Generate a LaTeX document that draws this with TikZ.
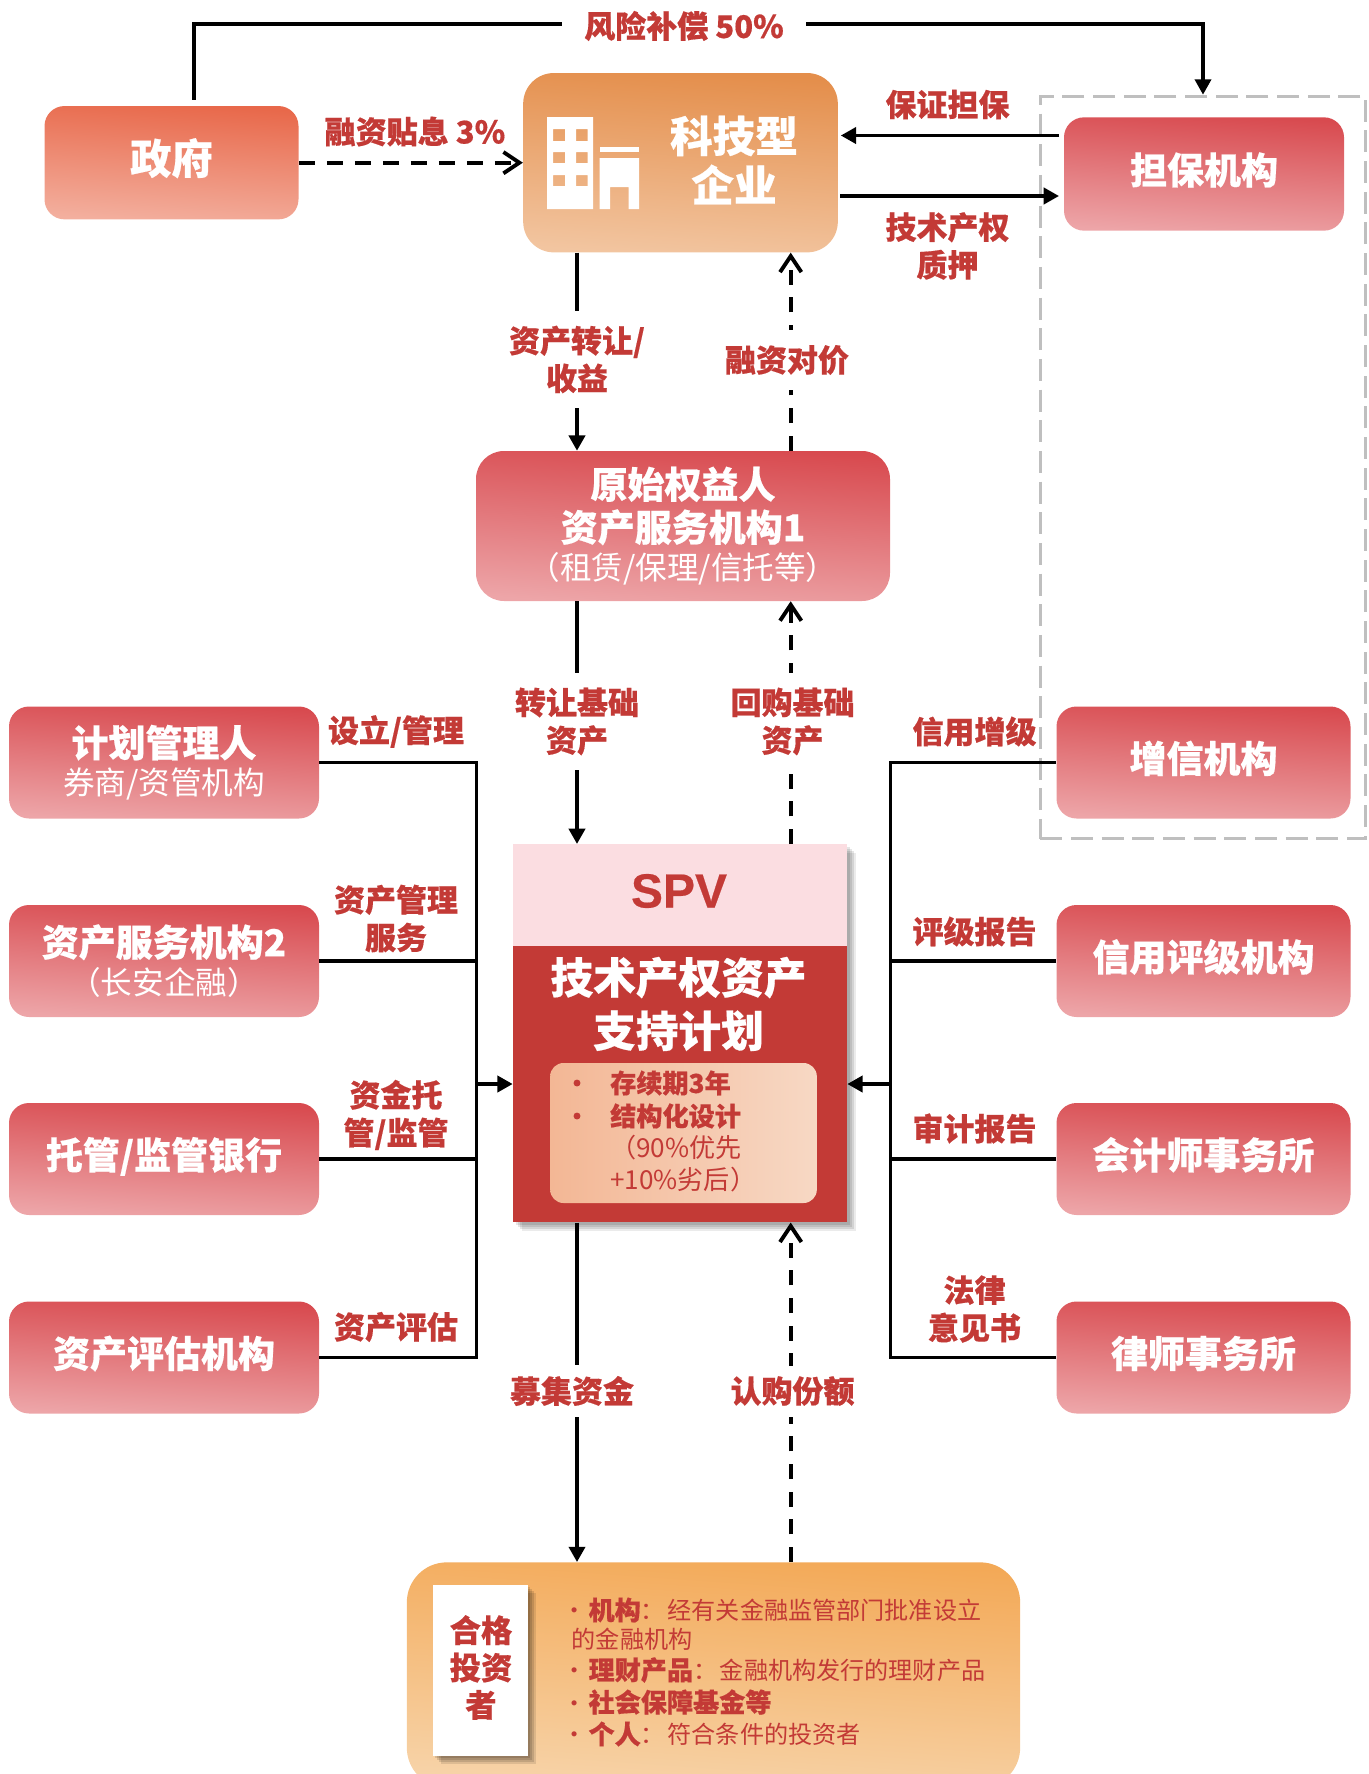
\documentclass[tikz,border=0pt]{standalone}
\usepackage{fontspec}
\usetikzlibrary{arrows.meta,calc}
\newfontfamily\regf{Noto Sans CJK SC}
\newfontfamily\hvf[FakeBold=0.5]{Noto Sans CJK SC Black}
\newfontfamily\spvf[FakeBold=0.4]{Liberation Sans Bold}
\definecolor{labred}{HTML}{C33A36}
\definecolor{D1}{HTML}{D84A4F}
\definecolor{D2}{HTML}{EDA5A8}
\definecolor{G1}{HTML}{E8684A}
\definecolor{G2}{HTML}{F3AF9E}
\definecolor{K1}{HTML}{E48E4B}
\definecolor{K2}{HTML}{F2C5A0}
\definecolor{I1}{HTML}{F3A957}
\definecolor{I2}{HTML}{F7D4AA}
\definecolor{N1}{HTML}{F3B795}
\definecolor{N2}{HTML}{F7D8C4}
\definecolor{P1}{HTML}{FBDDE1}
\definecolor{frame}{HTML}{BFBFBF}
\newcommand\hvA{\hvf\fontsize{27.75}{33}\selectfont}
\newcommand\hvB{\hvf\fontsize{23.25}{28.3}\selectfont}
\newcommand\hvC{\hvf\fontsize{19.6}{24}\selectfont}
\newcommand\rgA{\regf\fontsize{23.7}{31}\selectfont}
\newcommand\rgC{\regf\fontsize{19.6}{24}\selectfont}
\newcommand\rgD{\regf\fontsize{18.1}{24}\selectfont}
\newcommand\upt[1]{\raisebox{-7.5pt}[0pt][0pt]{#1}}
\newcommand\lead{\makebox[12.6pt][l]{\hspace{-7pt}·}}
\tikzset{
 grbox/.style 2 args={rounded corners=15pt,top color=#1,bottom color=#2,shading angle=-4,inner sep=0pt,align=center,text=white},
 redbox/.style={grbox={D1}{D2},minimum width=#1},
 lab/.style={text=labred,font=\hvB,align=center,inner sep=0pt},
 gaplab/.style={lab,fill=white,inner xsep=#1,inner ysep=11pt},
 sol/.style={line width=2.3pt,draw=black},
 solarr/.style={line width=2.9pt,draw=black,-{Triangle[length=11.5pt,width=12pt]}},
 dasharr/.style={line width=2.9pt,draw=black,dash pattern=on 11.25pt off 9.5pt,-{Straight Barb[length=12pt,width=16pt,line width=2.9pt]}},
 plain/.style={inner sep=0pt},
 dotb/.style={circle,fill=labred,inner sep=0pt,minimum size=5.2pt},
}
\begin{document}
\begin{tikzpicture}[x=.75pt,y=-.75pt]
\useasboundingbox (0,0) rectangle (1369,1774);
\clip (0,0) rectangle (1369,1774);
\coordinate (xa) at (577,0);
\coordinate (xb) at (790.7,0);
\coordinate (lbus) at (476.5,0);
\coordinate (rbus) at (890.5,0);
\coordinate (lin) at (476.5,1084);
\coordinate (rin) at (890.5,1084);
\coordinate (topl) at (194,24);
\coordinate (ya) at (0,135.5);
\coordinate (yb) at (0,196);
% guarantee group frame
\node[draw=frame,line width=2.2pt,dash pattern=on 16.5pt off 6.5pt,minimum width=244pt,minimum height=557pt,plain] (gbox) at (1203,467.5) {};
% main boxes
\node[grbox={G1}{G2},minimum width=190.5pt,minimum height=85pt] (gov) at (171.5,162.7) {\raisebox{-8.5pt}[0pt][0pt]{\hvf\fontsize{31}{33}\selectfont 政府}};
\node[grbox={K1}{K2},rounded corners=23pt,minimum width=236pt,minimum height=134.5pt] (kj) at (680.5,162.7) {};
\node[redbox=210pt,minimum height=85pt] (db) at (1204,174) {\upt{\hvA 担保机构}};
\node[redbox=310.5pt,rounded corners=21pt,minimum height=112.5pt] (ys) at (683,526) {{\hvA 原始权益人}\\[4.5pt]{\hvA 资产服务机构1}\\[4.5pt]{\rgA （租赁/保理/信托等）}};
\node[redbox=232.5pt,minimum height=84pt] (plan) at (164,762.5) {{\hvA 计划管理人}\\[4.5pt]{\rgA 券商/资管机构}};
\node[redbox=232.5pt,minimum height=84pt] (serv) at (164,961) {{\hvA 资产服务机构2}\\[4.5pt]{\rgA （长安企融）}};
\node[redbox=232.5pt,minimum height=84pt] (cust) at (164,1159) {\upt{\hvA 托管/监管银行}};
\node[redbox=232.5pt,minimum height=84pt] (eval) at (164,1357.5) {\upt{\hvA 资产评估机构}};
\node[redbox=220.5pt,minimum height=84pt] (zx) at (1203.5,762.5) {\upt{\hvA 增信机构}};
\node[redbox=220.5pt,minimum height=84pt] (rate) at (1203.5,961) {\upt{\hvA 信用评级机构}};
\node[redbox=220.5pt,minimum height=84pt] (acc) at (1203.5,1159) {\upt{\hvA 会计师事务所}};
\node[redbox=220.5pt,minimum height=84pt] (law) at (1203.5,1357.5) {\upt{\hvA 律师事务所}};
% building icon
\fill[white,even odd rule] (547,117) rectangle (593,209)
 (553,129) rectangle (565,141) (576,129) rectangle (587.5,141)
 (553,152) rectangle (565,163) (576,152) rectangle (587.5,163)
 (553,175) rectangle (565,186) (576,175) rectangle (587.5,186);
\fill[white] (599.5,147) rectangle (639,152);
\fill[white] (599.5,158) -- (639,158) -- (639,209) -- (628.5,209) -- (628.5,187) -- (610,187) -- (610,209) -- (599.5,209) -- cycle;
\node[plain,text=white,align=center,font=\hvf\fontsize{32}{37}\selectfont] (kjt) at (734,160) {科技型\\企业};
% SPV
\foreach \d/\o in {3/.10,5/.10,7/.10,9/.08}{
 \fill[black,opacity=\o] (513+\d,844+\d) rectangle (847+\d,1222+\d);
}
\node[fill=P1,minimum width=250.5pt,minimum height=76.5pt,plain,anchor=north] (spvt) at (680,844) {};
\node[fill=labred,minimum width=250.5pt,minimum height=207pt,plain,anchor=north] (spvb) at (680,946) {};
\node[plain,text=labred,font=\spvf\fontsize{36}{40}\selectfont] (spvl) at (679,891) {SPV};
\node[plain,text=white,align=center,font=\hvf\fontsize{32}{40}\selectfont] (spvn) at (678.5,1004) {技术产权资产\\支持计划};
\node[rounded corners=10pt,left color=N1,right color=N2,minimum width=200pt,minimum height=105pt,plain] (inn) at (683.5,1133) {};
\node[dotb] (b1) at (577,1083) {};
\node[dotb] (b2) at (577,1116) {};
\node[plain,text=labred,font=\hvC,anchor=west] (i1) at (610,1083) {存续期3年};
\node[plain,text=labred,font=\hvC,anchor=west] (i2) at (610,1116) {结构化设计};
\node[plain,text=labred,font=\rgC,anchor=west] (i3) at (610,1148) {（90\%优先};
\node[plain,text=labred,font=\rgC,anchor=west] (i4) at (610,1180) {+10\%劣后）};
% investor
\node[grbox={I1}{I2},rounded corners=30pt,minimum width=460pt,minimum height=169pt] (inv) at (713.5,1675) {};
\foreach \d/\o in {2/.12,4/.12,6/.12,8/.1}{
 \fill[black,opacity=\o] (433+\d,1585+\d) rectangle (528+\d,1756+\d);
}
\node[fill=white,minimum width=71pt,minimum height=128pt,plain] (pan) at (480.5,1670.5) {};
\node[plain,text=labred,align=center,font=\hvf\fontsize{23.5}{28}\selectfont] (pant) at (481,1667.5) {合格\\投资\\者};
\node[plain,text=labred,font=\rgD,anchor=west] (l1) at (571.5,1610) {\lead{\hvC 机构}：\hspace{2pt}经有关金融监管部门批准设立};
\node[plain,text=labred,font=\rgD,anchor=west] (l2) at (571.5,1639) {的金融机构};
\node[plain,text=labred,font=\rgD,anchor=west] (l3) at (571.5,1670) {\lead{\hvC 理财产品}：\hspace{2pt}金融机构发行的理财产品};
\node[plain,text=labred,font=\rgD,anchor=west] (l4) at (571.5,1702) {\lead{\hvC 社会保障基金等}};
\node[plain,text=labred,font=\rgD,anchor=west] (l5) at (571.5,1734) {\lead{\hvC 个人}：\hspace{2pt}符合条件的投资者};
% connectors
\draw[solarr,line width=2.6pt,shorten <=4.5pt] (gov.north -| topl) -- (topl) -- (topl -| gbox.north) -- (gbox.north);
\draw[dasharr,dash pattern=on 12pt off 9pt] (gov.east) -- (gov.east -| kj.west);
\draw[solarr,shorten <=3.5pt,shorten >=2pt] (db.west |- ya) -- (kj.east |- ya);
\draw[solarr,shorten <=1.5pt,shorten >=3.5pt] (kj.east |- yb) -- (db.west |- yb);
\draw[solarr] (kj.south -| xa) -- (ys.north -| xa);
\draw[dasharr] (ys.north -| xb) -- (kj.south -| xb);
\draw[solarr] (ys.south -| xa) -- (spvt.north -| xa);
\draw[dasharr] (spvt.north -| xb) -- (ys.south -| xb);
\draw[solarr] (spvb.south -| xa) -- (inv.north -| xa);
\draw[dasharr] (inv.north -| xb) -- (spvb.south -| xb);
\draw[sol] (plan.east) -- (plan.east -| lbus);
\draw[sol] (serv.east) -- (serv.east -| lbus);
\draw[sol] (cust.east) -- (cust.east -| lbus);
\draw[sol] (eval.east) -- (eval.east -| lbus);
\draw[sol,line cap=rect] (plan.east -| lbus) -- (eval.east -| lbus);
\draw[solarr] (lin) -- (lin -| spvb.west);
\draw[sol] (zx.west) -- (zx.west -| rbus);
\draw[sol] (rate.west) -- (rate.west -| rbus);
\draw[sol] (acc.west) -- (acc.west -| rbus);
\draw[sol] (law.west) -- (law.west -| rbus);
\draw[sol,line cap=rect] (zx.west -| rbus) -- (law.west -| rbus);
\draw[solarr] (rin) -- (rin -| spvb.east);
% labels
\node[gaplab=17pt,inner ysep=0pt] (t1) at (684,26) {风险补偿 50\%};
\node[lab] (t2) at (415,131.5) {融资贴息 3\%};
\node[lab] (t3) at (947.5,104.5) {保证担保};
\node[lab] (t4) at (947.5,246) {技术产权\\质押};
\node[gaplab=0pt] (t5) at (577,359.5) {资产转让/\\收益};
\node[gaplab=0pt] (t6) at (787,360) {融资对价};
\node[gaplab=0pt] (t7) at (577,721.5) {转让基础\\资产};
\node[gaplab=0pt] (t8) at (792.5,721.5) {回购基础\\资产};
\node[gaplab=0pt,inner ysep=8pt] (t9) at (572,1391) {募集资金};
\node[gaplab=0pt,inner ysep=8pt] (t10) at (792.5,1391) {认购份额};
\node[lab] (t11) at (396,731.5) {设立/管理};
\node[lab] (t12) at (396,918.5) {资产管理\\服务};
\node[lab] (t13) at (396,1115) {资金托\\管/监管};
\node[lab] (t14) at (396,1327) {资产评估};
\node[lab] (t15) at (974.5,731.5) {信用增级};
\node[lab] (t16) at (974.5,931.5) {评级报告};
\node[lab] (t17) at (974.5,1128.5) {审计报告};
\node[lab] (t18) at (974.5,1309) {法律\\意见书};
\end{tikzpicture}
\end{document}
